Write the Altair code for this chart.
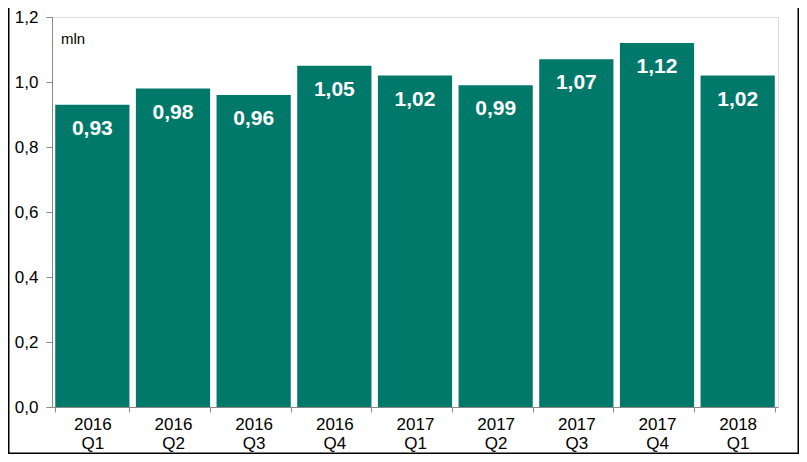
import altair as alt
import pandas as pd

periods = ["2016 Q1", "2016 Q2", "2016 Q3", "2016 Q4", "2017 Q1", "2017 Q2", "2017 Q3", "2017 Q4", "2018 Q1"]
values = [0.93, 0.98, 0.96, 1.05, 1.02, 0.99, 1.07, 1.12, 1.02]
y_ticks = [0, 0.2, 0.4, 0.6, 0.8, 1.0, 1.2]

df = pd.DataFrame({"period": periods, "value": values})

FONT = "Liberation Sans"
TEAL = "#00796B"
W, H = 726, 390
TOP = 9

x_enc = alt.X("period:N", sort=periods, title=None,
              scale=alt.Scale(paddingInner=0.08, paddingOuter=0.04),
              axis=alt.Axis(labelAngle=0, labelExpr="split(datum.label, ' ')",
                            tickBand="extent", tickSize=5, tickColor="#888888",
                            domainColor="#888888", labelFontSize=17, labelFont=FONT,
                            labelColor="#000000", labelPadding=4, labelLineHeight=19))
y_enc = alt.Y("value:Q", title=None,
              scale=alt.Scale(domain=[0, 1.2], nice=False),
              axis=alt.Axis(values=y_ticks, grid=False, tickSize=6, tickColor="#888888",
                            domainColor="#888888", labelFontSize=17, labelFont=FONT,
                            labelColor="#000000", labelPadding=8,
                            labelExpr="replace(format(datum.value, '.1f'), '.', ',')"))

base = alt.Chart(df)
bars = base.mark_bar(color=TEAL).encode(x=x_enc, y=y_enc)
labels = base.transform_calculate(
    lbl="replace(format(datum.value, '.2f'), '.', ',')"
).mark_text(color="white", fontWeight="bold", fontSize=21, font=FONT, dy=24, baseline="middle").encode(
    x=alt.X("period:N", sort=periods), y="value:Q", text="lbl:N")

mln = alt.Chart(pd.DataFrame({"t": ["mln"]})).mark_text(
    align="left", baseline="middle", fontSize=15, font=FONT, color="#000000"
).encode(x=alt.value(9), y=alt.value(22), text="t:N")

bottom_y = 446 - TOP - 0.75
b_left = alt.Chart(pd.DataFrame({"a": [0]})).mark_rule(color="#000000", strokeWidth=1.5).encode(
    x=alt.value(-43.25), y=alt.value(-TOP), y2=alt.value(bottom_y))
b_right = alt.Chart(pd.DataFrame({"a": [0]})).mark_rule(color="#000000", strokeWidth=1.5).encode(
    x=alt.value(746.25), y=alt.value(-TOP), y2=alt.value(bottom_y))
b_bottom = alt.Chart(pd.DataFrame({"a": [0]})).mark_rule(color="#000000", strokeWidth=1.5).encode(
    x=alt.value(-44), x2=alt.value(747), y=alt.value(bottom_y))

chart = alt.layer(bars, labels, mln, b_left, b_right, b_bottom).properties(
    width=W, height=H,
    autosize=alt.AutoSizeParams(type="none"),
    padding={"left": 44, "top": TOP, "right": 21, "bottom": 446 - TOP - H},
).configure_view(stroke="#888888", strokeWidth=1).configure(background="white")

chart.save("out.html", embed_options={"renderer": "svg", "actions": False})
